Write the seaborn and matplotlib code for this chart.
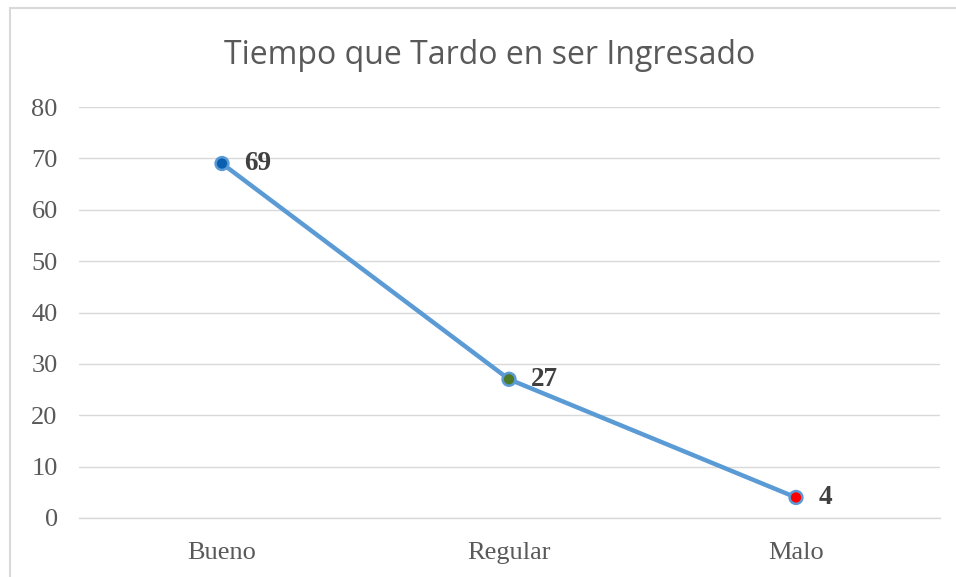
import matplotlib
matplotlib.use("Agg")
import matplotlib.pyplot as plt
import seaborn as sns
import pandas as pd
from matplotlib.patches import Rectangle

categories = ["Bueno", "Regular", "Malo"]
values = [69, 27, 4]
point_colors = ["#0B5FB0", "#4E7A27", "#FF0000"]
title = "Tiempo que Tardo en ser Ingresado"

sns.set_theme(style="white")
plt.rcParams["font.family"] = ["Liberation Serif", "DejaVu Serif"]

df = pd.DataFrame({"cat": categories, "val": values})

fig = plt.figure(figsize=(9.56, 5.77), dpi=100)
ax = fig.add_axes([78.5 / 956, 1 - 518 / 577, (939.5 - 78.5) / 956, (518 - 107) / 577])

sns.lineplot(data=df, x="cat", y="val", ax=ax, color="#5B9BD5", linewidth=3.2,
             sort=False, zorder=2)
ax.scatter(range(len(values)), values, s=85, c=point_colors, edgecolors="#5B9BD5",
           linewidths=1.8, zorder=3)
for i, v in enumerate(values):
    ax.annotate(str(v), (i, v), xytext=(16, 0), textcoords="offset points",
                ha="left", va="center", fontsize=19.5, fontweight="bold", color="#404040")

ax.set_xlim(-0.5, 2.5)
ax.set_ylim(0, 80)
ax.set_yticks(range(0, 81, 10))
ax.yaxis.grid(True, color="#D9D9D9", linewidth=1)
ax.xaxis.grid(False)
for s in ["top", "right", "left"]:
    ax.spines[s].set_visible(False)
ax.spines["bottom"].set_color("#D9D9D9")
ax.spines["bottom"].set_linewidth(1)
ax.set_xlabel("")
ax.set_ylabel("")
ax.tick_params(axis="y", length=0, pad=15, labelsize=19, labelcolor="#595959")
ax.tick_params(axis="x", length=0, pad=17, labelsize=19, labelcolor="#595959")

fig.text(490 / 956, 1 - 56 / 577, title, ha="center", va="center",
         fontsize=23, color="#595959", family=["Open Sans", "DejaVu Sans"])

# chart border
fig.add_artist(Rectangle((10 / 956, -0.1), 1.2, 1 - 8 / 577 + 0.1, transform=fig.transFigure,
                         fill=False, edgecolor="#D9D9D9", linewidth=1.5))

fig.savefig("out.png", dpi=100)
